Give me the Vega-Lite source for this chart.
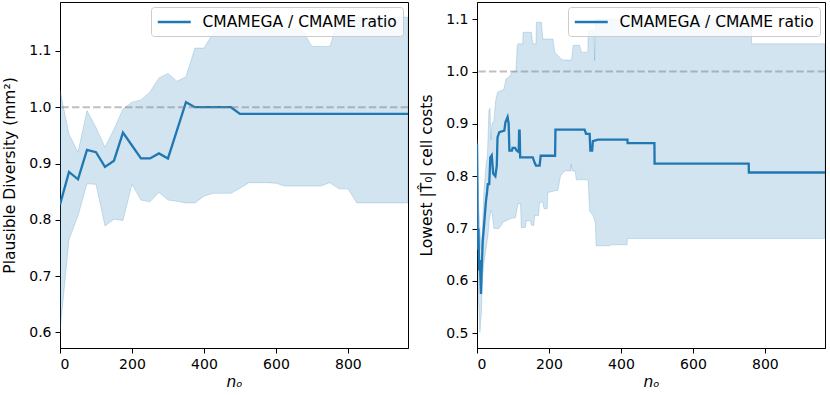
{
  "$schema": "https://vega.github.io/schema/vega-lite/v6.json",
  "padding": {"left": 2, "top": 1, "right": 0, "bottom": 0},
  "spacing": 69,
  "bounds": "flush",
  "background": "white",
  "config": {
    "font": "DejaVu Sans",
    "view": {"stroke": "black", "strokeWidth": 1},
    "axis": {"domainColor": "black", "tickColor": "black", "labelColor": "black", "titleColor": "black", "labelFontSize": 14, "titleFontSize": 15.5, "titleFontWeight": "normal", "tickSize": 5, "labelPadding": 4, "grid": false},
    "legend": {"orient": "top-right", "offset": 5, "padding": 5.5, "fillColor": "rgba(255,255,255,0.8)", "strokeColor": "#cccccc", "cornerRadius": 3, "symbolType": "M-1,0H3", "symbolSize": 272, "symbolStrokeWidth": 2.3, "labelFontSize": 15.5, "labelOffset": 27, "labelLimit": 0, "labelColor": "black", "title": null}
  },
  "datasets": {
    "left": [
      {"n": 0, "v": 0.827, "lo": 0.601, "hi": 1.030},
      {"n": 25, "v": 0.885, "lo": 0.765, "hi": 0.952},
      {"n": 50, "v": 0.872, "lo": 0.807, "hi": 0.920},
      {"n": 75, "v": 0.924, "lo": 0.864, "hi": 0.994},
      {"n": 100, "v": 0.920, "lo": 0.863, "hi": 0.964},
      {"n": 125, "v": 0.894, "lo": 0.789, "hi": 0.929},
      {"n": 150, "v": 0.905, "lo": 0.801, "hi": 0.961},
      {"n": 175, "v": 0.955, "lo": 0.799, "hi": 0.997},
      {"n": 200, "v": 0.932, "lo": 0.863, "hi": 1.009},
      {"n": 225, "v": 0.909, "lo": 0.835, "hi": 1.013},
      {"n": 250, "v": 0.909, "lo": 0.832, "hi": 1.027},
      {"n": 275, "v": 0.918, "lo": 0.849, "hi": 1.052},
      {"n": 300, "v": 0.909, "lo": 0.835, "hi": 1.060},
      {"n": 325, "v": 0.959, "lo": 0.833, "hi": 1.046},
      {"n": 350, "v": 1.009, "lo": 0.830, "hi": 1.054},
      {"n": 375, "v": 1.000, "lo": 0.830, "hi": 1.105},
      {"n": 400, "v": 1.000, "lo": 0.842, "hi": 1.105},
      {"n": 425, "v": 1.000, "lo": 0.847, "hi": 1.131},
      {"n": 450, "v": 1.000, "lo": 0.847, "hi": 1.140},
      {"n": 475, "v": 1.000, "lo": 0.847, "hi": 1.140},
      {"n": 500, "v": 0.988, "lo": 0.856, "hi": 1.140},
      {"n": 525, "v": 0.988, "lo": 0.866, "hi": 1.140},
      {"n": 550, "v": 0.988, "lo": 0.866, "hi": 1.140},
      {"n": 575, "v": 0.988, "lo": 0.866, "hi": 1.140},
      {"n": 600, "v": 0.988, "lo": 0.865, "hi": 1.140},
      {"n": 625, "v": 0.988, "lo": 0.860, "hi": 1.140},
      {"n": 650, "v": 0.988, "lo": 0.860, "hi": 1.140},
      {"n": 675, "v": 0.988, "lo": 0.860, "hi": 1.135},
      {"n": 700, "v": 0.988, "lo": 0.860, "hi": 1.108},
      {"n": 725, "v": 0.988, "lo": 0.860, "hi": 1.108},
      {"n": 750, "v": 0.988, "lo": 0.866, "hi": 1.108},
      {"n": 775, "v": 0.988, "lo": 0.855, "hi": 1.160},
      {"n": 800, "v": 0.988, "lo": 0.855, "hi": 1.160},
      {"n": 825, "v": 0.988, "lo": 0.830, "hi": 1.160},
      {"n": 850, "v": 0.988, "lo": 0.830, "hi": 1.160},
      {"n": 875, "v": 0.988, "lo": 0.830, "hi": 1.160},
      {"n": 900, "v": 0.988, "lo": 0.830, "hi": 1.160},
      {"n": 925, "v": 0.988, "lo": 0.830, "hi": 1.160},
      {"n": 950, "v": 0.988, "lo": 0.830, "hi": 1.160},
      {"n": 967, "v": 0.988, "lo": 0.830, "hi": 1.160}
    ],
    "rightLine": [
      {"n": 0, "v": 0.862}, {"n": 1, "v": 0.78}, {"n": 2, "v": 0.66}, {"n": 4, "v": 0.70},
      {"n": 6, "v": 0.62}, {"n": 8, "v": 0.64}, {"n": 11, "v": 0.575}, {"n": 13, "v": 0.62},
      {"n": 16, "v": 0.677}, {"n": 20, "v": 0.71}, {"n": 25, "v": 0.753}, {"n": 28, "v": 0.77},
      {"n": 30, "v": 0.785}, {"n": 34, "v": 0.785}, {"n": 37, "v": 0.836}, {"n": 41, "v": 0.84},
      {"n": 45, "v": 0.805}, {"n": 51, "v": 0.80}, {"n": 55, "v": 0.82}, {"n": 57, "v": 0.874},
      {"n": 62, "v": 0.884}, {"n": 76, "v": 0.887}, {"n": 79, "v": 0.903}, {"n": 85, "v": 0.913},
      {"n": 88, "v": 0.90}, {"n": 90, "v": 0.849}, {"n": 97, "v": 0.849}, {"n": 99, "v": 0.854},
      {"n": 106, "v": 0.854}, {"n": 110, "v": 0.849}, {"n": 116, "v": 0.846}, {"n": 117, "v": 0.887},
      {"n": 118.5, "v": 0.887}, {"n": 120, "v": 0.836}, {"n": 155, "v": 0.836}, {"n": 160, "v": 0.826},
      {"n": 164, "v": 0.82}, {"n": 174, "v": 0.82}, {"n": 177, "v": 0.839}, {"n": 217, "v": 0.839},
      {"n": 218, "v": 0.889}, {"n": 299, "v": 0.889}, {"n": 303, "v": 0.881}, {"n": 313, "v": 0.881},
      {"n": 315, "v": 0.849}, {"n": 320, "v": 0.849}, {"n": 322, "v": 0.867}, {"n": 336, "v": 0.870},
      {"n": 418, "v": 0.870}, {"n": 418.5, "v": 0.863}, {"n": 493, "v": 0.863}, {"n": 493.5, "v": 0.824},
      {"n": 755, "v": 0.824}, {"n": 755.5, "v": 0.807}, {"n": 967, "v": 0.807}
    ],
    "rightBand": [
      {"n": 0, "lo": 0.85, "hi": 0.87}, {"n": 2, "lo": 0.70, "hi": 0.86}, {"n": 4, "lo": 0.57, "hi": 0.75},
      {"n": 8, "lo": 0.502, "hi": 0.70}, {"n": 12, "lo": 0.537, "hi": 0.66}, {"n": 15, "lo": 0.60, "hi": 0.70},
      {"n": 19, "lo": 0.633, "hi": 0.77}, {"n": 25, "lo": 0.66, "hi": 0.82}, {"n": 29, "lo": 0.68, "hi": 0.84},
      {"n": 31, "lo": 0.69, "hi": 0.88}, {"n": 33, "lo": 0.71, "hi": 0.925}, {"n": 36, "lo": 0.725, "hi": 0.93},
      {"n": 39, "lo": 0.735, "hi": 0.87}, {"n": 42, "lo": 0.73, "hi": 0.90}, {"n": 47, "lo": 0.70, "hi": 0.906},
      {"n": 52, "lo": 0.70, "hi": 0.945}, {"n": 57, "lo": 0.70, "hi": 0.96}, {"n": 61, "lo": 0.70, "hi": 0.962},
      {"n": 74, "lo": 0.713, "hi": 0.965}, {"n": 81, "lo": 0.715, "hi": 0.986}, {"n": 90, "lo": 0.718, "hi": 0.99},
      {"n": 99, "lo": 0.72, "hi": 1.0}, {"n": 106, "lo": 0.72, "hi": 1.0}, {"n": 108, "lo": 0.725, "hi": 1.0},
      {"n": 112, "lo": 0.74, "hi": 1.05}, {"n": 114, "lo": 0.748, "hi": 1.053}, {"n": 121, "lo": 0.747, "hi": 1.053},
      {"n": 123, "lo": 0.702, "hi": 1.053}, {"n": 127, "lo": 0.702, "hi": 1.053}, {"n": 128, "lo": 0.702, "hi": 1.075},
      {"n": 134, "lo": 0.702, "hi": 1.075}, {"n": 137, "lo": 0.715, "hi": 1.075}, {"n": 149, "lo": 0.715, "hi": 1.075},
      {"n": 151, "lo": 0.706, "hi": 1.075}, {"n": 155, "lo": 0.706, "hi": 1.053}, {"n": 158, "lo": 0.706, "hi": 1.053},
      {"n": 160, "lo": 0.725, "hi": 1.053}, {"n": 164, "lo": 0.725, "hi": 1.053}, {"n": 165, "lo": 0.725, "hi": 1.094},
      {"n": 171, "lo": 0.725, "hi": 1.094}, {"n": 174, "lo": 0.75, "hi": 1.094}, {"n": 179, "lo": 0.75, "hi": 1.094},
      {"n": 183, "lo": 0.75, "hi": 1.062}, {"n": 186, "lo": 0.738, "hi": 1.062}, {"n": 195, "lo": 0.738, "hi": 1.062},
      {"n": 197, "lo": 0.769, "hi": 1.062}, {"n": 211, "lo": 0.771, "hi": 1.062}, {"n": 216, "lo": 0.772, "hi": 1.037},
      {"n": 225, "lo": 0.773, "hi": 1.03}, {"n": 232, "lo": 0.801, "hi": 1.025}, {"n": 239, "lo": 0.806, "hi": 1.022},
      {"n": 243, "lo": 0.81, "hi": 1.022}, {"n": 260, "lo": 0.81, "hi": 1.022}, {"n": 262, "lo": 0.823, "hi": 1.022},
      {"n": 264, "lo": 0.81, "hi": 1.03}, {"n": 267, "lo": 0.81, "hi": 1.05}, {"n": 273, "lo": 0.81, "hi": 1.05},
      {"n": 276, "lo": 0.793, "hi": 1.05}, {"n": 285, "lo": 0.793, "hi": 1.05}, {"n": 290, "lo": 0.793, "hi": 1.037},
      {"n": 308, "lo": 0.793, "hi": 1.037}, {"n": 309, "lo": 0.79, "hi": 1.078}, {"n": 313, "lo": 0.734, "hi": 1.078},
      {"n": 322, "lo": 0.725, "hi": 1.078}, {"n": 325, "lo": 0.72, "hi": 1.078}, {"n": 327, "lo": 0.715, "hi": 1.021},
      {"n": 329, "lo": 0.71, "hi": 1.10}, {"n": 331, "lo": 0.667, "hi": 1.10}, {"n": 369, "lo": 0.667, "hi": 1.10},
      {"n": 372, "lo": 0.669, "hi": 1.10}, {"n": 417, "lo": 0.669, "hi": 1.10}, {"n": 418, "lo": 0.681, "hi": 1.10},
      {"n": 762, "lo": 0.681, "hi": 1.10}, {"n": 763, "lo": 0.681, "hi": 1.053}, {"n": 967, "lo": 0.681, "hi": 1.053}
    ]
  },
  "resolve": {"scale": {"color": "independent"}, "legend": {"color": "independent"}},
  "hconcat": [
    {
      "width": 348,
      "height": 346,
      "layer": [
        {
          "data": {"name": "left"},
          "mark": {"type": "area", "color": "#1f77b4", "fillOpacity": 0.2, "stroke": "#1f77b4", "strokeOpacity": 0.2, "strokeWidth": 1, "clip": true},
          "encoding": {
            "x": {"field": "n", "type": "quantitative", "scale": {"domain": [0, 967], "nice": false, "zero": false}, "axis": {"values": [0, 200, 400, 600, 800], "title": "nₒ", "titleFontStyle": "italic", "titlePadding": 3}},
            "y": {"field": "hi", "type": "quantitative", "scale": {"domain": [0.5723, 1.1869], "nice": false, "zero": false}, "axis": {"values": [0.6, 0.7, 0.8, 0.9, 1.0, 1.1], "format": ".1f", "title": "Plausible Diversity (mm²)", "titlePadding": 11}},
            "y2": {"field": "lo"}
          }
        },
        {
          "data": {"name": "left"},
          "mark": {"type": "line", "strokeWidth": 2.3, "clip": true},
          "encoding": {
            "x": {"field": "n", "type": "quantitative"},
            "y": {"field": "v", "type": "quantitative"},
            "color": {"datum": "CMAMEGA / CMAME ratio", "scale": {"range": ["#1f77b4"]}}
          }
        },
        {
          "data": {"values": [{}]},
          "mark": {"type": "rule", "color": "#808080", "opacity": 0.5, "strokeWidth": 2, "strokeDash": [7.4, 3.2]},
          "encoding": {"y": {"datum": 1.0}}
        }
      ]
    },
    {
      "width": 348,
      "height": 346,
      "layer": [
        {
          "data": {"name": "rightBand"},
          "mark": {"type": "area", "color": "#1f77b4", "fillOpacity": 0.2, "stroke": "#1f77b4", "strokeOpacity": 0.2, "strokeWidth": 1, "clip": true},
          "encoding": {
            "x": {"field": "n", "type": "quantitative", "scale": {"domain": [0, 967], "nice": false, "zero": false}, "axis": {"values": [0, 200, 400, 600, 800], "title": "nₒ", "titleFontStyle": "italic", "titlePadding": 3}},
            "y": {"field": "hi", "type": "quantitative", "scale": {"domain": [0.4717, 1.1328], "nice": false, "zero": false}, "axis": {"values": [0.5, 0.6, 0.7, 0.8, 0.9, 1.0, 1.1], "format": ".1f", "title": "Lowest |T̂₀| cell costs", "titlePadding": 11}},
            "y2": {"field": "lo"}
          }
        },
        {
          "data": {"name": "rightLine"},
          "mark": {"type": "line", "strokeWidth": 2.3, "clip": true},
          "encoding": {
            "x": {"field": "n", "type": "quantitative"},
            "y": {"field": "v", "type": "quantitative"},
            "color": {"datum": "CMAMEGA / CMAME ratio", "scale": {"range": ["#1f77b4"]}}
          }
        },
        {
          "data": {"values": [{}]},
          "mark": {"type": "rule", "color": "#808080", "opacity": 0.5, "strokeWidth": 2, "strokeDash": [7.4, 3.2]},
          "encoding": {"y": {"datum": 1.0}}
        }
      ]
    }
  ]
}
